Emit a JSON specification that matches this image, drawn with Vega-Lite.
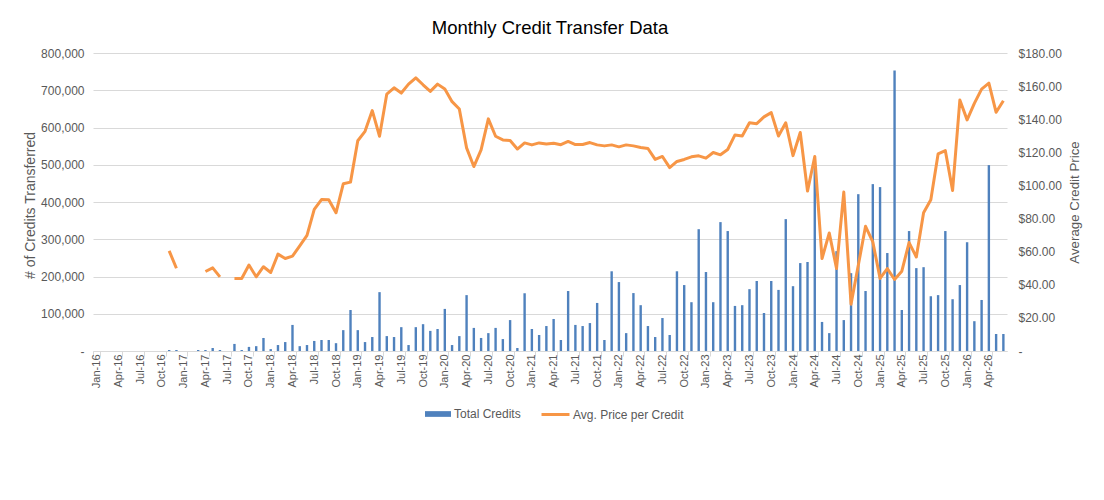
{
  "$schema": "https://vega.github.io/schema/vega-lite/v6.json",
  "autosize": {"type": "none"},
  "width": 914,
  "height": 298,
  "padding": {"left": 93, "top": 53, "right": 97, "bottom": 149},
  "background": "white",
  "config": {
    "view": {"stroke": null},
    "font": "Liberation Sans"
  },
  "title": {
    "text": "Monthly Credit Transfer Data",
    "fontSize": 18.5,
    "fontWeight": "normal",
    "font": "Liberation Sans",
    "color": "#000000",
    "anchor": "middle",
    "baseline": "alphabetic",
    "offset": -5
  },
  "data": {
    "values": [
      {"month": "Jan-16", "credits": 0, "price": null},
      {"month": "Feb-16", "credits": 0, "price": null},
      {"month": "Mar-16", "credits": 0, "price": null},
      {"month": "Apr-16", "credits": 0, "price": null},
      {"month": "May-16", "credits": 0, "price": null},
      {"month": "Jun-16", "credits": 0, "price": null},
      {"month": "Jul-16", "credits": 0, "price": null},
      {"month": "Aug-16", "credits": 0, "price": null},
      {"month": "Sep-16", "credits": 0, "price": null},
      {"month": "Oct-16", "credits": 0, "price": null},
      {"month": "Nov-16", "credits": 2700, "price": 60.5},
      {"month": "Dec-16", "credits": 2700, "price": 50},
      {"month": "Jan-17", "credits": 0, "price": null},
      {"month": "Feb-17", "credits": 0, "price": null},
      {"month": "Mar-17", "credits": 2700, "price": null},
      {"month": "Apr-17", "credits": 2700, "price": 48},
      {"month": "May-17", "credits": 8000, "price": 50.2},
      {"month": "Jun-17", "credits": 2700, "price": 44.8},
      {"month": "Jul-17", "credits": 0, "price": null},
      {"month": "Aug-17", "credits": 19000, "price": 43.8},
      {"month": "Sep-17", "credits": 2700, "price": 43.8},
      {"month": "Oct-17", "credits": 11000, "price": 51.9},
      {"month": "Nov-17", "credits": 13000, "price": 44.8},
      {"month": "Dec-17", "credits": 35000, "price": 50.9},
      {"month": "Jan-18", "credits": 5000, "price": 47.4},
      {"month": "Feb-18", "credits": 16000, "price": 58.5},
      {"month": "Mar-18", "credits": 24000, "price": 55.9},
      {"month": "Apr-18", "credits": 70000, "price": 57.3},
      {"month": "May-18", "credits": 13000, "price": 63.5},
      {"month": "Jun-18", "credits": 16000, "price": 69.8},
      {"month": "Jul-18", "credits": 27000, "price": 85.5},
      {"month": "Aug-18", "credits": 29500, "price": 91.5},
      {"month": "Sep-18", "credits": 29500, "price": 91.4},
      {"month": "Oct-18", "credits": 21000, "price": 83.5},
      {"month": "Nov-18", "credits": 56000, "price": 101},
      {"month": "Dec-18", "credits": 110000, "price": 102},
      {"month": "Jan-19", "credits": 56000, "price": 127},
      {"month": "Feb-19", "credits": 24000, "price": 132.7},
      {"month": "Mar-19", "credits": 37500, "price": 145.2},
      {"month": "Apr-19", "credits": 158000, "price": 129.7},
      {"month": "May-19", "credits": 40000, "price": 155.2},
      {"month": "Jun-19", "credits": 37500, "price": 159},
      {"month": "Jul-19", "credits": 64000, "price": 155.8},
      {"month": "Aug-19", "credits": 16000, "price": 161.2},
      {"month": "Sep-19", "credits": 64000, "price": 165},
      {"month": "Oct-19", "credits": 72000, "price": 160.8},
      {"month": "Nov-19", "credits": 54000, "price": 156.8},
      {"month": "Dec-19", "credits": 59000, "price": 161.2},
      {"month": "Jan-20", "credits": 113000, "price": 158.2},
      {"month": "Feb-20", "credits": 16000, "price": 150.6},
      {"month": "Mar-20", "credits": 40000, "price": 146.2},
      {"month": "Apr-20", "credits": 150000, "price": 122.7},
      {"month": "May-20", "credits": 62000, "price": 111.4},
      {"month": "Jun-20", "credits": 35000, "price": 121.5},
      {"month": "Jul-20", "credits": 48000, "price": 140.2},
      {"month": "Aug-20", "credits": 62000, "price": 129.7},
      {"month": "Sep-20", "credits": 32000, "price": 127.5},
      {"month": "Oct-20", "credits": 83000, "price": 127.1},
      {"month": "Nov-20", "credits": 8000, "price": 122},
      {"month": "Dec-20", "credits": 155000, "price": 125.7},
      {"month": "Jan-21", "credits": 59000, "price": 124.5},
      {"month": "Feb-21", "credits": 43000, "price": 125.7},
      {"month": "Mar-21", "credits": 67000, "price": 125.1},
      {"month": "Apr-21", "credits": 86000, "price": 125.5},
      {"month": "May-21", "credits": 29500, "price": 124.6},
      {"month": "Jun-21", "credits": 161000, "price": 126.6},
      {"month": "Jul-21", "credits": 70000, "price": 124.7},
      {"month": "Aug-21", "credits": 67000, "price": 124.7},
      {"month": "Sep-21", "credits": 75000, "price": 125.9},
      {"month": "Oct-21", "credits": 129000, "price": 124.5},
      {"month": "Nov-21", "credits": 29500, "price": 123.9},
      {"month": "Dec-21", "credits": 214000, "price": 124.5},
      {"month": "Jan-22", "credits": 185000, "price": 123.3},
      {"month": "Feb-22", "credits": 48000, "price": 124.5},
      {"month": "Mar-22", "credits": 155500, "price": 123.9},
      {"month": "Apr-22", "credits": 123000, "price": 122.9},
      {"month": "May-22", "credits": 67000, "price": 122.3},
      {"month": "Jun-22", "credits": 37500, "price": 115.7},
      {"month": "Jul-22", "credits": 88500, "price": 117.5},
      {"month": "Aug-22", "credits": 43000, "price": 110.8},
      {"month": "Sep-22", "credits": 214000, "price": 114.5},
      {"month": "Oct-22", "credits": 177000, "price": 115.7},
      {"month": "Nov-22", "credits": 131000, "price": 117.3},
      {"month": "Dec-22", "credits": 327000, "price": 117.9},
      {"month": "Jan-23", "credits": 212000, "price": 116.5},
      {"month": "Feb-23", "credits": 131000, "price": 119.9},
      {"month": "Mar-23", "credits": 346000, "price": 118.5},
      {"month": "Apr-23", "credits": 322000, "price": 121.7},
      {"month": "May-23", "credits": 121000, "price": 130.5},
      {"month": "Jun-23", "credits": 123000, "price": 129.9},
      {"month": "Jul-23", "credits": 166000, "price": 137.9},
      {"month": "Aug-23", "credits": 188000, "price": 137.3},
      {"month": "Sep-23", "credits": 102000, "price": 141.4},
      {"month": "Oct-23", "credits": 188000, "price": 144},
      {"month": "Nov-23", "credits": 164000, "price": 129.9},
      {"month": "Dec-23", "credits": 354000, "price": 137.9},
      {"month": "Jan-24", "credits": 174000, "price": 118},
      {"month": "Feb-24", "credits": 236000, "price": 132},
      {"month": "Mar-24", "credits": 239000, "price": 96.6},
      {"month": "Apr-24", "credits": 499000, "price": 117.5},
      {"month": "May-24", "credits": 78000, "price": 55.8},
      {"month": "Jun-24", "credits": 48000, "price": 71.3},
      {"month": "Jul-24", "credits": 268000, "price": 49.8},
      {"month": "Aug-24", "credits": 83000, "price": 96},
      {"month": "Sep-24", "credits": 209000, "price": 28.3},
      {"month": "Oct-24", "credits": 421000, "price": 51.8},
      {"month": "Nov-24", "credits": 161000, "price": 75.3},
      {"month": "Dec-24", "credits": 448000, "price": 65.9},
      {"month": "Jan-25", "credits": 440000, "price": 43.8},
      {"month": "Feb-25", "credits": 263000, "price": 49.8},
      {"month": "Mar-25", "credits": 753000, "price": 43.2},
      {"month": "Apr-25", "credits": 110000, "price": 48.2},
      {"month": "May-25", "credits": 322000, "price": 65.5},
      {"month": "Jun-25", "credits": 222500, "price": 56.8},
      {"month": "Jul-25", "credits": 225000, "price": 83.5},
      {"month": "Aug-25", "credits": 147000, "price": 91.4},
      {"month": "Sep-25", "credits": 150000, "price": 119},
      {"month": "Oct-25", "credits": 322000, "price": 121},
      {"month": "Nov-25", "credits": 139000, "price": 97},
      {"month": "Dec-25", "credits": 177000, "price": 151.6},
      {"month": "Jan-26", "credits": 292000, "price": 139.6},
      {"month": "Feb-26", "credits": 80000, "price": 149.6},
      {"month": "Mar-26", "credits": 137000, "price": 158.2},
      {"month": "Apr-26", "credits": 499000, "price": 161.8},
      {"month": "May-26", "credits": 45600, "price": 144.2},
      {"month": "Jun-26", "credits": 45600, "price": 151.2}
    ]
  },
  "encoding": {
    "x": {
      "field": "month",
      "type": "ordinal",
      "sort": null,
      "scale": {"paddingInner": 0, "paddingOuter": 0},
      "axis": {
        "title": null,
        "values": ["Jan-16","Apr-16","Jul-16","Oct-16","Jan-17","Apr-17","Jul-17","Oct-17","Jan-18","Apr-18","Jul-18","Oct-18","Jan-19","Apr-19","Jul-19","Oct-19","Jan-20","Apr-20","Jul-20","Oct-20","Jan-21","Apr-21","Jul-21","Oct-21","Jan-22","Apr-22","Jul-22","Oct-22","Jan-23","Apr-23","Jul-23","Oct-23","Jan-24","Apr-24","Jul-24","Oct-24","Jan-25","Apr-25","Jul-25","Oct-25","Jan-26","Apr-26"],
        "tickBand": "extent",
        "labelAngle": -90,
        "labelFontSize": 11,
        "labelFont": "Liberation Sans",
        "labelColor": "#595959",
        "labelPadding": -2,
        "tickSize": 5,
        "tickColor": "#d9d9d9",
        "domainColor": "#d9d9d9",
        "domainWidth": 1,
        "grid": false
      }
    }
  },
  "layer": [
    {
      "mark": {"type": "bar", "size": 2.4},
      "encoding": {
        "y": {
          "field": "credits",
          "type": "quantitative",
          "scale": {"domain": [0, 800000], "nice": false, "zero": true},
          "axis": {
            "title": "# of Credits Transferred",
            "titleFontSize": 14,
            "titleFontWeight": "normal",
            "titleFont": "Liberation Sans",
            "titleColor": "#595959",
            "titleAngle": -90,
            "titleBaseline": "middle",
            "titleX": -63,
            "titleY": 152,
            "values": [0, 100000, 200000, 300000, 400000, 500000, 600000, 700000, 800000],
            "labelExpr": "datum.value == 0 ? '-' : format(datum.value, ',')",
            "labelFontSize": 12,
            "labelFont": "Liberation Sans",
            "labelColor": "#595959",
            "labelPadding": 9,
            "ticks": false,
            "domain": false,
            "grid": true,
            "gridColor": "#d9d9d9",
            "gridWidth": 1
          }
        },
        "color": {
          "datum": "Total Credits",
          "type": "nominal",
          "scale": {"range": ["#4F81BD"]},
          "legend": {
            "orient": "none",
            "legendX": 332,
            "legendY": 348,
            "title": null,
            "symbolType": "M-1,-0.22H1V0.22H-1Z",
            "symbolSize": 676,
            "symbolStrokeWidth": 0,
            "labelFontSize": 12,
            "labelFont": "Liberation Sans",
            "labelColor": "#595959",
            "labelOffset": 3
          }
        }
      }
    },
    {
      "mark": {"type": "line", "strokeWidth": 3, "strokeJoin": "round", "invalid": "break-paths-show-domains"},
      "encoding": {
        "y": {
          "field": "price",
          "type": "quantitative",
          "scale": {"domain": [0, 180], "nice": false, "zero": true},
          "axis": {
            "orient": "right",
            "title": "Average Credit Price",
            "titleFontSize": 13.3,
            "titleFontWeight": "normal",
            "titleFont": "Liberation Sans",
            "titleColor": "#595959",
            "titleAngle": -90,
            "titleBaseline": "middle",
            "titleX": 67,
            "titleY": 149,
            "values": [0, 20, 40, 60, 80, 100, 120, 140, 160, 180],
            "labelExpr": "datum.value == 0 ? '-' : '$' + format(datum.value, '.2f')",
            "labelFontSize": 12,
            "labelFont": "Liberation Sans",
            "labelColor": "#595959",
            "labelPadding": 11,
            "ticks": false,
            "domain": false,
            "grid": false
          }
        },
        "stroke": {
          "datum": "Avg. Price per Credit",
          "type": "nominal",
          "scale": {"range": ["#F79646"]},
          "legend": {
            "orient": "none",
            "legendX": 447,
            "legendY": 346,
            "title": null,
            "symbolType": "stroke",
            "symbolSize": 784,
            "symbolStrokeWidth": 3,
            "labelFontSize": 12,
            "labelFont": "Liberation Sans",
            "labelColor": "#595959",
            "labelOffset": 2
          }
        }
      }
    }
  ],
  "resolve": {"scale": {"y": "independent"}}
}
